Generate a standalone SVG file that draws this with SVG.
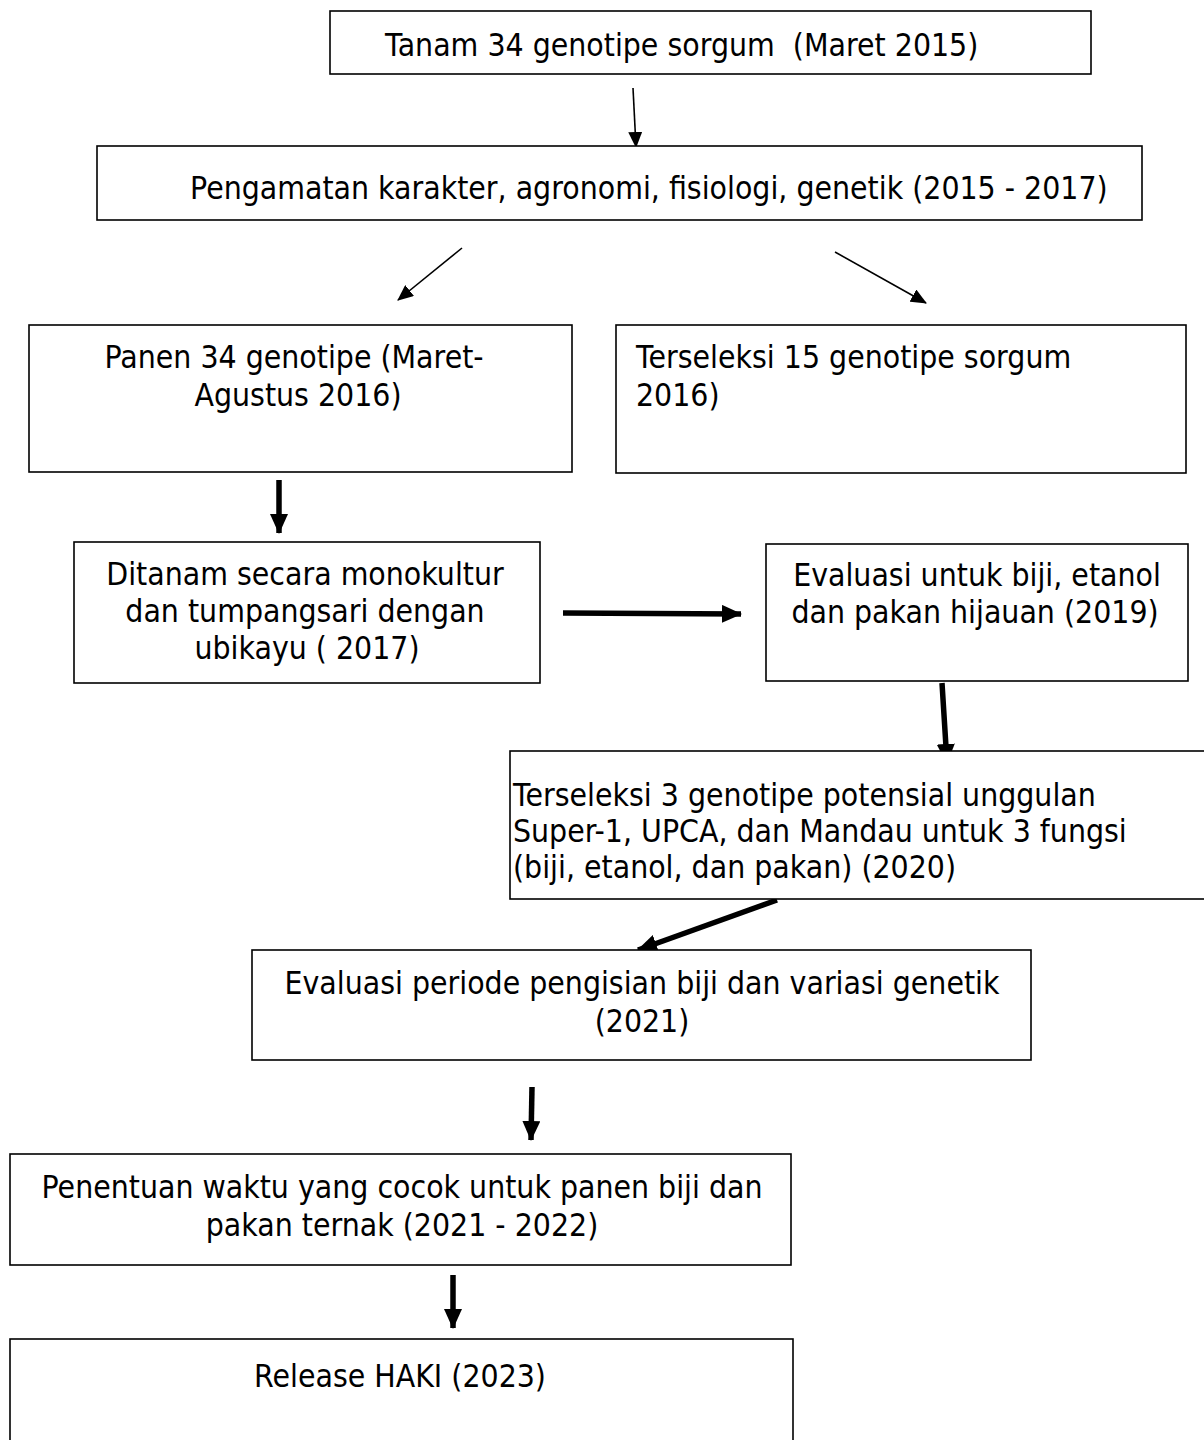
<svg xmlns="http://www.w3.org/2000/svg" width="1204" height="1440" viewBox="0 0 1204 1440">
<style>
.box{fill:#fff;stroke:#000;stroke-width:1.6}
text{font-family:"DejaVu Sans","Verdana",sans-serif;font-size:32px;fill:#000;white-space:pre}
.c{text-anchor:middle}
.thin{stroke:#000;stroke-width:1.6;fill:none}
.thick{stroke:#000;stroke-width:5.5;fill:none}
</style>
<defs>
<marker id="ah" markerUnits="userSpaceOnUse" markerWidth="16" markerHeight="14" refX="15" refY="7" orient="auto"><path d="M0,0 L16,7 L0,14 Z" fill="#000"/></marker>
<marker id="ahb" markerUnits="userSpaceOnUse" markerWidth="20" markerHeight="18" refX="19" refY="9" orient="auto"><path d="M0,0 L20,9 L0,18 Z" fill="#000"/></marker>
</defs>
<rect width="1204" height="1440" fill="#fff"/>
<g id="connectors">
<line class="thin" x1="633" y1="88" x2="636" y2="147" marker-end="url(#ah)"/>
<line class="thin" x1="462" y1="248" x2="398" y2="300" marker-end="url(#ah)"/>
<line class="thin" x1="835" y1="252" x2="926" y2="303" marker-end="url(#ah)"/>
<line class="thick" x1="279" y1="480" x2="279" y2="533" marker-end="url(#ahb)"/>
<line class="thick" x1="563" y1="613" x2="741" y2="614" marker-end="url(#ahb)"/>
<line class="thick" x1="942" y1="683" x2="947" y2="763" marker-end="url(#ahb)"/>
<line class="thick" x1="777" y1="900" x2="638" y2="950" marker-end="url(#ahb)"/>
<line class="thick" x1="532" y1="1087" x2="531" y2="1140" marker-end="url(#ahb)"/>
<line class="thick" x1="453" y1="1275" x2="453" y2="1328" marker-end="url(#ahb)"/>
</g>
<g id="n1"><rect class="box" x="330" y="11" width="761" height="63"/><text transform="translate(385,56) scale(0.89,1)" xml:space="preserve">Tanam 34 genotipe sorgum  (Maret 2015)</text></g>
<g id="n2"><rect class="box" x="97" y="146" width="1045" height="74"/><text transform="translate(190,199) scale(0.89,1)">Pengamatan karakter, agronomi, fisiologi, genetik (2015 - 2017)</text></g>
<g id="n3"><rect class="box" x="29" y="325" width="543" height="147"/><text class="c" transform="translate(294,368) scale(0.89,1)">Panen 34 genotipe (Maret-</text><text class="c" transform="translate(298,406) scale(0.89,1)">Agustus 2016)</text></g>
<g id="n4"><rect class="box" x="616" y="325" width="570" height="148"/><text transform="translate(636,368) scale(0.89,1)">Terseleksi 15 genotipe sorgum</text><text transform="translate(636,406) scale(0.89,1)">2016)</text></g>
<g id="n5"><rect class="box" x="74" y="542" width="466" height="141"/><text class="c" transform="translate(305,585) scale(0.89,1)">Ditanam secara monokultur</text><text class="c" transform="translate(305,622) scale(0.89,1)">dan tumpangsari dengan</text><text class="c" transform="translate(307,659) scale(0.89,1)">ubikayu ( 2017)</text></g>
<g id="n6"><rect class="box" x="766" y="544" width="422" height="137"/><text class="c" transform="translate(977,586) scale(0.89,1)">Evaluasi untuk biji, etanol</text><text class="c" transform="translate(975,623) scale(0.89,1)">dan pakan hijauan (2019)</text></g>
<g id="n7"><rect class="box" x="510" y="751" width="700" height="148"/><text transform="translate(513,806) scale(0.89,1)">Terseleksi 3 genotipe potensial unggulan</text><text transform="translate(513,842) scale(0.89,1)">Super-1, UPCA, dan Mandau untuk 3 fungsi</text><text transform="translate(513,878) scale(0.89,1)">(biji, etanol, dan pakan) (2020)</text></g>
<g id="n8"><rect class="box" x="252" y="950" width="779" height="110"/><text class="c" transform="translate(642,994) scale(0.89,1)">Evaluasi periode pengisian biji dan variasi genetik</text><text class="c" transform="translate(642,1032) scale(0.89,1)">(2021)</text></g>
<g id="n9"><rect class="box" x="10" y="1154" width="781" height="111"/><text class="c" transform="translate(402,1198) scale(0.89,1)">Penentuan waktu yang cocok untuk panen biji dan</text><text class="c" transform="translate(402,1236) scale(0.89,1)">pakan ternak (2021 - 2022)</text></g>
<g id="n10"><rect class="box" x="10" y="1339" width="783" height="130"/><text class="c" transform="translate(400,1387) scale(0.89,1)">Release HAKI (2023)</text></g>
</svg>
